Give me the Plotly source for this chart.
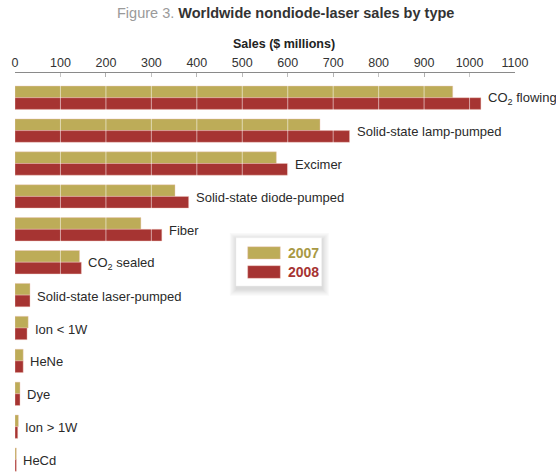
import plotly.graph_objects as go

categories = ["CO<sub>2</sub> flowing", "Solid-state lamp-pumped", "Excimer",
              "Solid-state diode-pumped", "Fiber", "CO<sub>2</sub> sealed",
              "Solid-state laser-pumped", "Ion < 1W", "HeNe", "Dye", "Ion > 1W", "HeCd"]
sales_2007 = [963, 671, 575, 352, 277, 142, 33, 29, 18, 11, 7.5, 3]
sales_2008 = [1025, 736, 600, 382, 323, 146, 33, 26.5, 18, 11, 6, 3]
tick_vals = [0, 100, 200, 300, 400, 500, 600, 700, 800, 900, 1000, 1100]

C07 = "#BDAC58"
C08 = "#A63432"
FONT = "Liberation Sans, Arial, sans-serif"

W, H = 556, 472
ML, MR, MT, MB = 15, 41, 73, 0
PW, PH = W - ML - MR, H - MT - MB


def px(x):
    return (x - ML) / PW


def py(y):
    return (H - MB - y) / PH


fig = go.Figure()
fig.add_trace(go.Bar(y=categories, x=sales_2007, orientation="h", name="2007",
                     marker=dict(color=C07, line=dict(color="rgba(240,200,190,0.7)", width=0.6)),
                     showlegend=False, hoverinfo="x+y"))
fig.add_trace(go.Bar(y=categories, x=sales_2008, orientation="h", name="2008",
                     marker=dict(color=C08, line=dict(color="rgba(240,200,190,0.7)", width=0.6)),
                     showlegend=False, hoverinfo="x+y"))

shapes = []
# white grid lines drawn over the bars
for t in tick_vals[1:-1]:
    shapes.append(dict(type="line", xref="x", yref="paper", x0=t, x1=t, y0=0, y1=1,
                       layer="above", line=dict(color="rgba(255,255,255,0.55)", width=1)))

# legend box with soft shadow
bx0, bx1, by0, by1 = 236, 321.7, 237.7, 286
for i in range(6):
    d = 1.2 * (i + 1)
    shapes.append(dict(type="rect", xref="paper", yref="paper",
                       x0=px(bx0 - d + 1), x1=px(bx1 + d), y0=py(by1 + d + 2.5), y1=py(by0 - d + 2.5),
                       fillcolor="rgba(0,0,0,0.022)", line=dict(width=0), layer="above"))
shapes.append(dict(type="rect", xref="paper", yref="paper",
                   x0=px(bx0), x1=px(bx1), y0=py(by1), y1=py(by0),
                   fillcolor="white", line=dict(color="rgba(238,238,238,1)", width=0.5), layer="above"))
shapes.append(dict(type="rect", xref="paper", yref="paper",
                   x0=px(247.7), x1=px(280.3), y0=py(259), y1=py(246.7),
                   fillcolor=C07, line=dict(color="rgba(240,200,190,0.7)", width=0.6), layer="above"))
shapes.append(dict(type="rect", xref="paper", yref="paper",
                   x0=px(247.7), x1=px(280.3), y0=py(278.3), y1=py(265.7),
                   fillcolor=C08, line=dict(color="rgba(240,200,190,0.7)", width=0.6), layer="above"))

annotations = []
for cat, a, b in zip(categories, sales_2007, sales_2008):
    annotations.append(dict(x=max(a, b), y=cat, xref="x", yref="y", text=cat,
                            showarrow=False, xanchor="left", yanchor="middle",
                            xshift=5, yshift=-1,
                            font=dict(family=FONT, size=13, color="#2a2a2a")))

annotations.append(dict(xref="paper", yref="paper", x=px(286), y=py(253), text="<b>2007</b>",
                        showarrow=False, xanchor="left", yanchor="middle",
                        font=dict(family=FONT, size=14, color="#A89944")))
annotations.append(dict(xref="paper", yref="paper", x=px(286), y=py(272), text="<b>2008</b>",
                        showarrow=False, xanchor="left", yanchor="middle",
                        font=dict(family=FONT, size=14, color="#A63432")))

annotations.append(dict(xref="paper", yref="paper", x=px(285.5), y=py(13),
                        text="<span style='color:#9a9a9a'>Figure 3.</span> <b>Worldwide nondiode-laser sales by type</b>",
                        showarrow=False, xanchor="center", yanchor="middle",
                        font=dict(family=FONT, size=14.5, color="#333333")))
annotations.append(dict(xref="paper", yref="paper", x=px(283.7), y=py(44),
                        text="<b>Sales ($ millions)</b>",
                        showarrow=False, xanchor="center", yanchor="middle",
                        font=dict(family=FONT, size=12.5, color="#222222")))

fig.update_layout(
    width=W, height=H,
    margin=dict(l=ML, r=MR, t=MT, b=MB, pad=0, autoexpand=False),
    paper_bgcolor="white", plot_bgcolor="white",
    barmode="group", bargap=0.29, bargroupgap=0,
    showlegend=False,
    shapes=shapes, annotations=annotations,
    xaxis=dict(side="top", range=[0, 1100], tickvals=tick_vals, ticktext=[str(v) for v in tick_vals],
               showgrid=False, zeroline=False, showline=True, linecolor="#8a8a8a", linewidth=1,
               ticks="inside", ticklen=4, tickcolor="#8a8a8a", tickwidth=1, automargin=False,
               tickfont=dict(family=FONT, size=12.5, color="#333333"), fixedrange=True),
    yaxis=dict(type="category", categoryorder="array", categoryarray=categories,
               range=[11.377, -0.751], showticklabels=False, showgrid=False, automargin=False,
               zeroline=False, showline=False, ticks="", fixedrange=True),
)

fig.write_html("out.html", config={"displayModeBar": False},
               post_script="document.body.style.margin='0';document.body.style.overflow='hidden';")
